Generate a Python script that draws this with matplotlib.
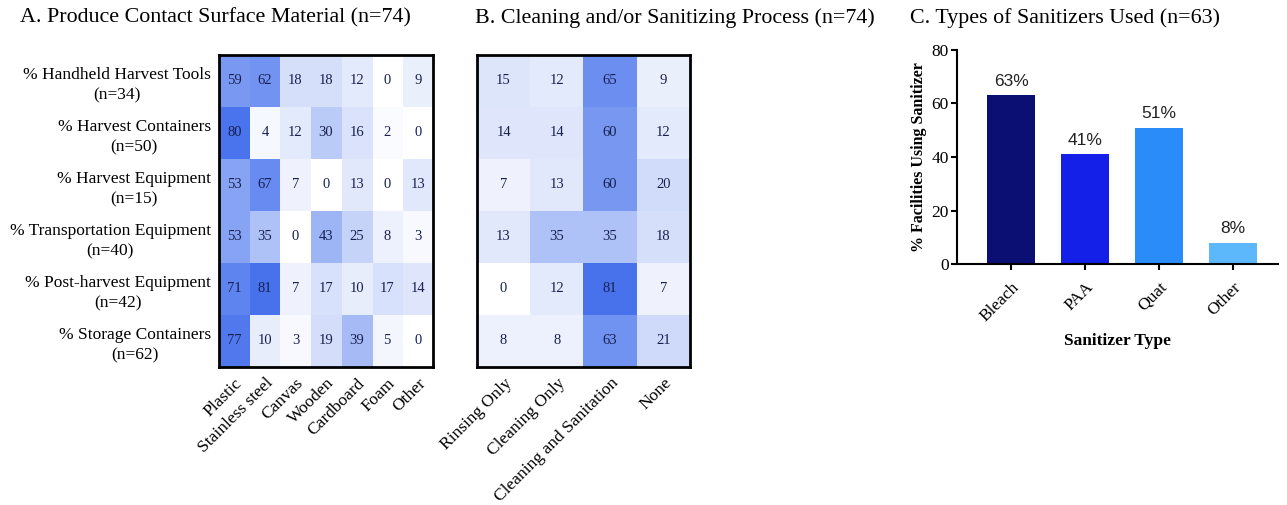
import numpy as np
import matplotlib
matplotlib.use("Agg")
import matplotlib.pyplot as plt
from matplotlib.colors import LinearSegmentedColormap

# Panel A data
surfaces = ["% Handheld Harvest Tools\n(n=34)", "% Harvest Containers\n(n=50)",
            "% Harvest Equipment\n(n=15)", "% Transportation Equipment\n(n=40)",
            "% Post-harvest Equipment\n(n=42)", "% Storage Containers\n(n=62)"]
materials = ["Plastic", "Stainless steel", "Canvas", "Wooden", "Cardboard", "Foam", "Other"]
material_pct = [
    [59, 62, 18, 18, 12, 0, 9],
    [80, 4, 12, 30, 16, 2, 0],
    [53, 67, 7, 0, 13, 0, 13],
    [53, 35, 0, 43, 25, 8, 3],
    [71, 81, 7, 17, 10, 17, 14],
    [77, 10, 3, 19, 39, 5, 0],
]

# Panel B data
processes = ["Rinsing Only", "Cleaning Only", "Cleaning and Sanitation", "None"]
process_pct = [
    [15, 12, 65, 9],
    [14, 14, 60, 12],
    [7, 13, 60, 20],
    [13, 35, 35, 18],
    [0, 12, 81, 7],
    [8, 8, 63, 21],
]

# Panel C data
sanitizers = ["Bleach", "PAA", "Quat", "Other"]
sanitizer_pct = [63, 41, 51, 8]
bar_colors = ["#0b0f73", "#1420e8", "#2a8cf8", "#5cb8fb"]

serif = "Liberation Serif"
cmap = LinearSegmentedColormap.from_list("wb", ["#ffffff", "#3f6cec"])

fig = plt.figure(figsize=(12.87, 5.05), dpi=100)


def heatmap(ax, data, xlabels, ylabels):
    arr = np.array(data)
    ax.imshow(arr, cmap=cmap, vmin=0, vmax=85, aspect="auto")
    for i in range(arr.shape[0]):
        for j in range(arr.shape[1]):
            ax.text(j, i, str(arr[i, j]), ha="center", va="center",
                    fontsize=10.5, family=serif, color="#17204f")
    ax.set_xticks(range(len(xlabels)))
    ax.set_xticklabels(xlabels, rotation=45, ha="right", rotation_mode="anchor",
                       fontsize=12.5, family=serif)
    if ylabels is not None:
        ax.set_yticks(range(len(ylabels)))
        ax.set_yticklabels(ylabels, fontsize=12.5, family=serif,
                           multialignment="center", linespacing=1.4)
    else:
        ax.set_yticks([])
    ax.tick_params(length=0, pad=6)
    for s in ax.spines.values():
        s.set_linewidth(2)


axA = fig.add_axes([0.1702, 0.2733, 0.1663, 0.6178])
heatmap(axA, material_pct, materials, surfaces)
fig.text(20 / 1287, 1 - 18 / 505, "A. Produce Contact Surface Material (n=74)",
         family=serif, fontsize=15.8, va="center", ha="left")

axB = fig.add_axes([0.3706, 0.2733, 0.1655, 0.6178])
heatmap(axB, process_pct, processes, None)
fig.text(475 / 1287, 1 - 18 / 505, "B. Cleaning and/or Sanitizing Process (n=74)",
         family=serif, fontsize=15.8, va="center", ha="left")

axC = fig.add_axes([0.7436, 0.4772, 0.2494, 0.4238])
x = np.arange(len(sanitizers))
bars = axC.bar(x, sanitizer_pct, width=0.65, color=bar_colors)
for xi, v in zip(x, sanitizer_pct):
    axC.text(xi, v + 2.5, f"{v}%", ha="center", va="bottom",
             fontsize=12.5, family="Liberation Sans", color="#222222")
axC.set_xlim(-0.73, 3.61)
axC.set_ylim(0, 80)
axC.set_yticks([0, 20, 40, 60, 80])
axC.set_xticks(x)
axC.set_xticklabels(sanitizers, rotation=45, ha="right", rotation_mode="anchor",
                    family=serif, fontsize=12.5)
for lab in axC.get_yticklabels():
    lab.set_family(serif)
    lab.set_fontsize(12.5)
axC.spines["top"].set_visible(False)
axC.spines["right"].set_visible(False)
axC.spines["left"].set_linewidth(1.5)
axC.spines["bottom"].set_linewidth(1.5)
axC.tick_params(width=1.5, length=4, pad=2)
axC.tick_params(axis="x", pad=7)
axC.set_ylabel("% Facilities Using Sanitizer", family=serif, fontweight="bold",
               fontsize=11.5, labelpad=3)
axC.set_xlabel("Sanitizer Type", family=serif, fontweight="bold", fontsize=12.5, labelpad=6)
fig.text(910 / 1287, 1 - 18 / 505, "C. Types of Sanitizers Used (n=63)",
         family=serif, fontsize=15.8, va="center", ha="left")

fig.savefig("out.png", dpi=100, facecolor="white")
